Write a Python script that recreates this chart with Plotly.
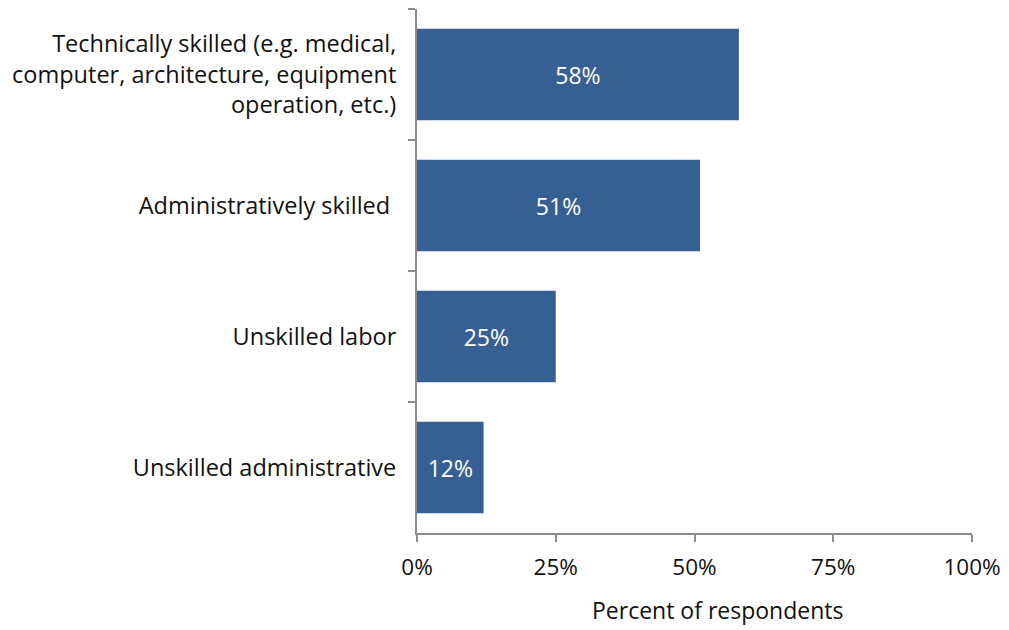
import plotly.graph_objects as go

categories = [
    "Technically skilled (e.g. medical,<br>computer, architecture, equipment<br>operation, etc.)",
    "Administratively skilled ",
    "Unskilled labor",
    "Unskilled administrative",
]
values = [58, 51, 25, 12]
labels = ["58%", "51%", "25%", "12%"]
tick_vals = [0, 25, 50, 75, 100]
tick_text = ["0%", "25%", "50%", "75%", "100%"]

font_family = "Open Sans"

fig = go.Figure(
    go.Bar(
        y=categories,
        x=values,
        orientation="h",
        marker=dict(color="#366092", line=dict(width=0)),
        text=labels,
        textposition="inside",
        insidetextanchor="middle",
        textfont=dict(color="white", size=23, family=font_family),
        hoverinfo="skip",
    )
)

# page body has an 8px margin, so the figure is sized/margined to compensate
fig.update_layout(
    width=1001,
    height=622,
    margin=dict(l=409, r=37, t=1, b=97),
    plot_bgcolor="white",
    paper_bgcolor="white",
    bargap=0.3,
    showlegend=False,
    font=dict(family=font_family, size=20, color="#111111"),
)

fig.update_xaxes(
    range=[0, 100],
    tickvals=tick_vals,
    ticktext=tick_text,
    showgrid=False,
    zeroline=False,
    showline=True,
    linecolor="#8c8c8c",
    linewidth=2,
    ticks="outside",
    ticklen=7,
    tickwidth=2,
    tickcolor="#8c8c8c",
    ticklabelstandoff=6,
    tickfont=dict(size=22.5, family=font_family, color="#111111"),
)

fig.update_yaxes(
    autorange="reversed",
    categoryorder="array",
    categoryarray=categories,
    showgrid=False,
    zeroline=False,
    showline=True,
    linecolor="#8c8c8c",
    linewidth=2,
    ticks="outside",
    tickson="boundaries",
    ticklen=7,
    tickwidth=2,
    tickcolor="#8c8c8c",
    ticklabelstandoff=14,
    tickfont=dict(size=23.5, family=font_family, color="#111111"),
)

fig.add_annotation(
    text="Percent of respondents",
    xref="x",
    yref="paper",
    x=54.2,
    y=0,
    yshift=-95,
    showarrow=False,
    font=dict(size=23, family=font_family, color="#111111"),
)

fig.write_html("out.html")
